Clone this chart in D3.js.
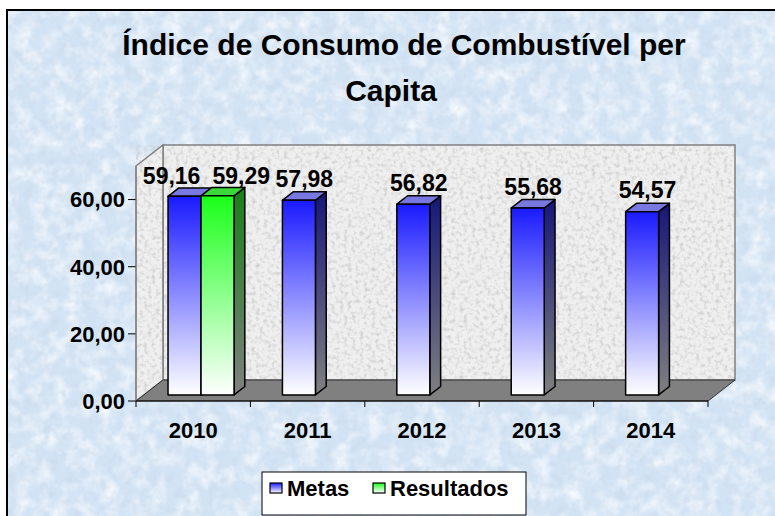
<!DOCTYPE html>
<html>
<head>
<meta charset="utf-8">
<title>Índice de Consumo de Combustível per Capita</title>
<script src="https://d3js.org/d3.v7.min.js"></script>
<style>
  html, body { margin: 0; padding: 0; background: #fff; }
  svg { display: block; font-family: "Liberation Sans", Arial, sans-serif; font-weight: bold; }
</style>
</head>
<body>
<div id="chart"></div>
<script>
// chart data
var years = ["2010", "2011", "2012", "2013", "2014"];
var series = ["Metas", "Resultados"];
var metas = [59.16, 57.98, 56.82, 55.68, 54.57];
var resultados = [59.29, null, null, null, null];
var yTicks = [0, 20, 40, 60];

var width = 775, height = 516;
var svg = d3.select("#chart").append("svg")
  .attr("width", width).attr("height", height);
var defs = svg.append("defs");

// textures
var bgF = defs.append("filter").attr("id", "bgtex").attr("x", 0).attr("y", 0).attr("width", 1).attr("height", 1);
bgF.append("feTurbulence").attr("type", "fractalNoise").attr("baseFrequency", 0.06).attr("numOctaves", 3).attr("seed", 4);
bgF.append("feColorMatrix").attr("type", "matrix")
  .attr("values", "0 0 0 0 0.95  0 0 0 0 0.97  0 0 0 0 1  0 0 0 -1.8 1.1");
var bgF2 = defs.append("filter").attr("id", "bgtex2").attr("x", 0).attr("y", 0).attr("width", 1).attr("height", 1);
bgF2.append("feTurbulence").attr("type", "fractalNoise").attr("baseFrequency", 0.12).attr("numOctaves", 2).attr("seed", 11);
bgF2.append("feColorMatrix").attr("type", "matrix")
  .attr("values", "0 0 0 0 0.6  0 0 0 0 0.7  0 0 0 0 0.82  0 0 0 1.6 -0.75");
var stoneF = defs.append("filter").attr("id", "stone").attr("x", 0).attr("y", 0).attr("width", 1).attr("height", 1);
stoneF.append("feTurbulence").attr("type", "fractalNoise").attr("baseFrequency", 0.25).attr("numOctaves", 3).attr("seed", 9);
stoneF.append("feColorMatrix").attr("type", "matrix")
  .attr("values", "0 0 0 0 0.6  0 0 0 0 0.6  0 0 0 0 0.6  0 0 0 -2.2 1.2");

function grad(id, c1, c2) {
  var g = defs.append("linearGradient").attr("id", id)
    .attr("x1", 0).attr("y1", 0).attr("x2", 0).attr("y2", 1);
  g.append("stop").attr("offset", "0%").attr("stop-color", c1);
  g.append("stop").attr("offset", "100%").attr("stop-color", c2);
}
grad("frontMetas", "#1a1aff", "#ffffff");
grad("sideMetas", "#16167a", "#808080");
grad("frontRes", "#1aff1a", "#ffffff");
grad("sideRes", "#168016", "#808080");

var colors = {
  Metas: { front: "url(#frontMetas)", side: "url(#sideMetas)", top: "#7878e0" },
  Resultados: { front: "url(#frontRes)", side: "url(#sideRes)", top: "#3ad83a" }
};

// background + frame
svg.append("rect").attr("x", 7).attr("y", 10).attr("width", width).attr("height", height)
  .attr("fill", "#d2e3f4");
svg.append("rect").attr("x", 7).attr("y", 10).attr("width", width).attr("height", height)
  .attr("filter", "url(#bgtex)");
svg.append("rect").attr("x", 7).attr("y", 10).attr("width", width).attr("height", height)
  .attr("filter", "url(#bgtex2)");
svg.append("path").attr("d", "M7," + height + "V10H" + width)
  .attr("fill", "none").attr("stroke", "#000").attr("stroke-width", 2);

// title
var title = svg.append("text").attr("text-anchor", "middle").attr("font-size", 30).attr("fill", "#000");
title.append("tspan").attr("x", 404).attr("y", 55).text("Índice de Consumo de Combustível per");
title.append("tspan").attr("x", 391).attr("y", 101).text("Capita");

// scales
var x = d3.scaleBand().domain(years).range([136, 708]);
var xs = d3.scaleBand().domain(series).range([24.2, 90.2]);
var y = d3.scaleLinear().domain([0, 70]).range([401, 166]);
var DX = 27, DY = -21;       // wall depth
var d0 = 0.29, d1 = 0.69;     // bar depth range

var x0 = x.range()[0], x1 = x.range()[1], yb = y(0), yt = y(70);
function pts(a) { return a.map(function(p) { return p.join(","); }).join(" "); }

// walls
var wallPts = [
  [[x0 + DX, yt + DY], [x1 + DX, yt + DY], [x1 + DX, yb + DY], [x0 + DX, yb + DY]],
  [[x0, yb], [x0 + DX, yb + DY], [x0 + DX, yt + DY], [x0, yt]]
];
wallPts.forEach(function(w) {
  svg.append("polygon").attr("points", pts(w)).attr("fill", "#efefef");
  svg.append("polygon").attr("points", pts(w)).attr("fill", "#fff").attr("filter", "url(#stone)");
  svg.append("polygon").attr("points", pts(w)).attr("fill", "none").attr("stroke", "#808080").attr("stroke-width", 1.5);
});
svg.append("polygon")
  .attr("points", pts([[x0, yb], [x1, yb], [x1 + DX, yb + DY], [x0 + DX, yb + DY]]))
  .attr("fill", "#808080").attr("stroke", "#333").attr("stroke-width", 1);

// axes ticks
var yAxis = svg.append("g");
yTicks.forEach(function(t) {
  yAxis.append("line").attr("x1", x0 - 8).attr("x2", x0).attr("y1", y(t)).attr("y2", y(t))
    .attr("stroke", "#000").attr("stroke-width", 1);
  yAxis.append("text").attr("x", x0 - 11).attr("y", y(t)).attr("dy", "0.36em")
    .attr("text-anchor", "end").attr("font-size", 22).text(d3.format(".2f")(t).replace(".", ","));
});
svg.append("line").attr("x1", x0).attr("x2", x0).attr("y1", yb).attr("y2", yt).attr("stroke", "#808080");
svg.append("line").attr("x1", x0).attr("x2", x1).attr("y1", yb).attr("y2", yb).attr("stroke", "#000");
years.concat(["end"]).forEach(function(yr, i) {
  var tx = i < years.length ? x(yr) : x1;
  svg.append("line").attr("x1", tx).attr("x2", tx).attr("y1", yb).attr("y2", yb + 6).attr("stroke", "#000");
});
years.forEach(function(yr) {
  svg.append("text").attr("x", x(yr) + x.bandwidth() / 2).attr("y", yb + 37)
    .attr("text-anchor", "middle").attr("font-size", 22).text(yr);
});

// bars
var data = [];
years.forEach(function(yr, i) {
  [["Metas", metas[i]], ["Resultados", resultados[i]]].forEach(function(s) {
    if (s[1] != null) data.push({ year: yr, s: s[0], v: s[1] });
  });
});
var bdx = (d1 - d0) * DX, bdy = (d1 - d0) * DY;
var labels = [];
data.forEach(function(d) {
  var bx0 = x(d.year) + xs(d.s) + d0 * DX, bx1 = bx0 + xs.bandwidth();
  var bot = y(0) + d0 * DY, top = y(d.v) + d0 * DY;
  var c = colors[d.s];
  var g = svg.append("g").attr("stroke", "#000").attr("stroke-width", 1.5).attr("stroke-linejoin", "round");
  g.append("polygon").attr("points", pts([[bx1, top], [bx1 + bdx, top + bdy], [bx1 + bdx, bot + bdy], [bx1, bot]]))
    .attr("fill", c.side);
  g.append("polygon").attr("points", pts([[bx0, top], [bx1, top], [bx1 + bdx, top + bdy], [bx0 + bdx, top + bdy]]))
    .attr("fill", c.top);
  g.append("rect").attr("x", bx0).attr("y", top).attr("width", bx1 - bx0).attr("height", bot - top)
    .attr("fill", c.front);
  var t = svg.append("text").attr("text-anchor", "middle").attr("font-size", 23)
    .attr("x", (bx0 + bx1) / 2 + bdx / 2).attr("y", top + bdy - 5)
    .text(d3.format(".2f")(d.v).replace(".", ","));
  labels.push({ year: d.year, node: t });
});

// push apart labels that collide inside a category
years.forEach(function(yr) {
  var ls = labels.filter(function(l) { return l.year === yr; });
  if (ls.length < 2) return;
  var a = ls[0].node, b = ls[1].node;
  var xa = +a.attr("x"), xb = +b.attr("x");
  var need = (a.node().getComputedTextLength() + b.node().getComputedTextLength()) / 2 + 12;
  if (xb - xa < need) {
    var mid = (xa + xb) / 2;
    a.attr("x", mid - need / 2);
    b.attr("x", mid + need / 2);
    var yy = Math.min(+a.attr("y"), +b.attr("y"));
    a.attr("y", yy + 2); b.attr("y", yy + 2);
  }
});

// legend
var lg = svg.append("g");
lg.append("rect").attr("x", 262).attr("y", 472).attr("width", 264).attr("height", 43)
  .attr("fill", "#fff").attr("stroke", "#000").attr("stroke-width", 1);
var lx = [270, 373];
series.forEach(function(s, i) {
  lg.append("rect").attr("x", lx[i]).attr("y", 483).attr("width", 12).attr("height", 10)
    .attr("fill", colors[s].front).attr("stroke", "#000").attr("stroke-width", 1.2);
  lg.append("text").attr("x", lx[i] + 17).attr("y", 496).attr("font-size", 22).text(s);
});
</script>
</body>
</html>
